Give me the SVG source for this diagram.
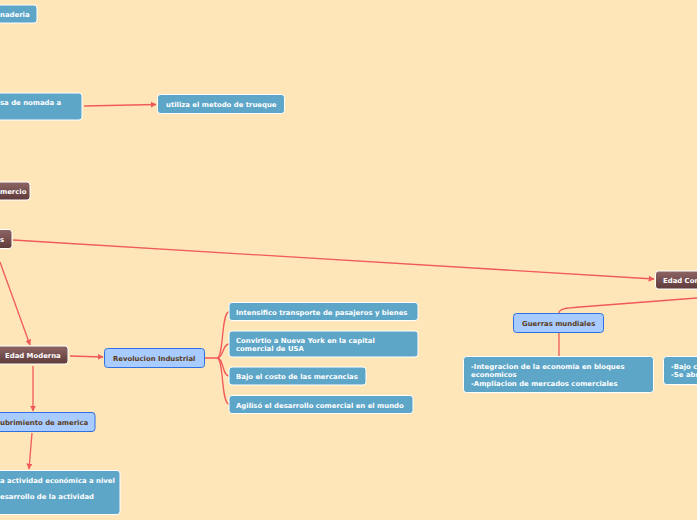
<svg xmlns="http://www.w3.org/2000/svg" width="697" height="520" viewBox="0 0 697 520">
<defs>
<linearGradient id="brown" x1="0" y1="0" x2="0" y2="1">
<stop offset="0" stop-color="#8e6565"/>
<stop offset="1" stop-color="#5e3a3a"/>
</linearGradient>
<marker id="arr" viewBox="0 0 10 10" refX="9" refY="5" markerWidth="6" markerHeight="6" orient="auto" markerUnits="userSpaceOnUse">
<path d="M0,0 L10,5 L0,10 z" fill="#f05a5a"/>
</marker>
<style>
.bg{fill:#ffe6b8}
.blue{fill:#5ea6c8;stroke:#ffffff;stroke-width:1}
.brown{fill:url(#brown);stroke:#ffffff;stroke-width:1}
.lblue{fill:#a8ccff;stroke:#2f6fe0;stroke-width:1}
.tw{font-family:"DejaVu Sans",Verdana,sans-serif;font-weight:bold;font-size:6.9px;fill:#ffffff}
.td{font-family:"DejaVu Sans",Verdana,sans-serif;font-weight:bold;font-size:6.9px;fill:#5a3a1a}
.c{fill:none;stroke:#f05a5a;stroke-width:1.3}
</style>
</defs>
<rect class="bg" x="0" y="0" width="697" height="520"/>
<g id="connectors">
<line class="c" x1="84" y1="106" x2="156" y2="104.5" marker-end="url(#arr)"/>
<line class="c" x1="13" y1="240" x2="654" y2="279" marker-end="url(#arr)"/>
<line class="c" x1="0" y1="262" x2="30" y2="345" marker-end="url(#arr)"/>
<line class="c" x1="70" y1="356" x2="103" y2="357" marker-end="url(#arr)"/>
<line class="c" x1="33" y1="366" x2="33" y2="411" marker-end="url(#arr)"/>
<line class="c" x1="32" y1="433" x2="29" y2="469" marker-end="url(#arr)"/>
<path class="c" d="M205,358 L217,358 C224,358 221,312 229,312"/>
<path class="c" d="M217,358 C224,358 222,344 229,344"/>
<path class="c" d="M217,358 C224,358 222,376 229,376"/>
<path class="c" d="M217,358 C224,358 221,404 229,404"/>
<path class="c" d="M559,313 C559,309 565,308 580,307 L697,298"/>
<line class="c" x1="559" y1="333" x2="559" y2="356"/>
</g>
<g id="n-panaderia">
<rect class="blue" x="-10" y="5" width="47" height="18" rx="3"/>
<text class="tw" x="0" y="17">naderia</text>
</g>
<g id="n-nomada">
<rect class="blue" x="-10" y="93" width="92" height="27" rx="3"/>
<text class="tw" x="0" y="105">sa de nomada a</text>
</g>
<g id="n-trueque">
<rect class="blue" x="157.500" y="94.500" width="127" height="19" rx="3"/>
<text class="tw" x="166" y="106.500">utiliza el metodo de trueque</text>
</g>
<g id="n-comercio">
<rect class="brown" x="-10" y="182" width="40" height="18" rx="3"/>
<text class="tw" x="0" y="193.500">mercio</text>
</g>
<g id="n-s">
<rect class="brown" x="-10" y="229.500" width="22" height="19" rx="3"/>
<text class="tw" x="0" y="241.500">s</text>
</g>
<g id="n-edad-con">
<rect class="brown" x="655.500" y="271" width="60" height="18" rx="3"/>
<text class="tw" x="663" y="283">Edad Con</text>
</g>
<g id="n-edad-moderna">
<rect class="brown" x="-3" y="346" width="71" height="18" rx="3"/>
<text class="tw" x="5" y="358">Edad Moderna</text>
</g>
<g id="n-revolucion">
<rect class="lblue" x="104.500" y="348.500" width="100" height="19" rx="3"/>
<text class="td" x="113" y="360.500">Revolucion Industrial</text>
</g>
<g id="n-intensifico">
<rect class="blue" x="229" y="302.500" width="189" height="18" rx="3"/>
<text class="tw" x="236" y="314.500">Intensifico transporte de pasajeros y bienes</text>
</g>
<g id="n-convirtio">
<rect class="blue" x="229" y="331" width="189" height="26" rx="3"/>
<text class="tw" x="236" y="343">Convirtio a Nueva York en la capital</text>
<text class="tw" x="236" y="351">comercial de USA</text>
</g>
<g id="n-bajo">
<rect class="blue" x="229" y="367" width="137" height="18" rx="3"/>
<text class="tw" x="236" y="379">Bajo el costo de las mercancias</text>
</g>
<g id="n-agiliso">
<rect class="blue" x="229" y="395.500" width="184" height="18" rx="3"/>
<text class="tw" x="236" y="407.500">Agilisó el desarrollo comercial en el mundo</text>
</g>
<g id="n-descubrimiento">
<rect class="lblue" x="-10" y="412.500" width="105" height="19" rx="3"/>
<text class="td" x="0" y="424.500">ubrimiento de america</text>
</g>
<g id="n-actividad">
<rect class="blue" x="-10" y="470.500" width="130" height="44" rx="3"/>
<text class="tw" x="0" y="482.500">a actividad económica a nivel</text>
<text class="tw" x="0" y="499">esarrollo de la actividad</text>
</g>
<g id="n-guerras">
<rect class="lblue" x="513.500" y="313.500" width="90" height="19" rx="3"/>
<text class="td" x="522" y="325.500">Guerras mundiales</text>
</g>
<g id="n-integracion">
<rect class="blue" x="463.500" y="356.500" width="190" height="36" rx="3"/>
<text class="tw" x="471" y="368.500">-Integracion de la economia en bloques</text>
<text class="tw" x="471" y="376.500">economicos</text>
<text class="tw" x="471" y="385.500">-Ampliacion de mercados comerciales</text>
</g>
<g id="n-bajo2">
<rect class="blue" x="663.500" y="356.500" width="50" height="28" rx="3"/>
<text class="tw" x="671" y="368.500">-Bajo c</text>
<text class="tw" x="671" y="376.500">-Se abr</text>
</g>
</svg>
